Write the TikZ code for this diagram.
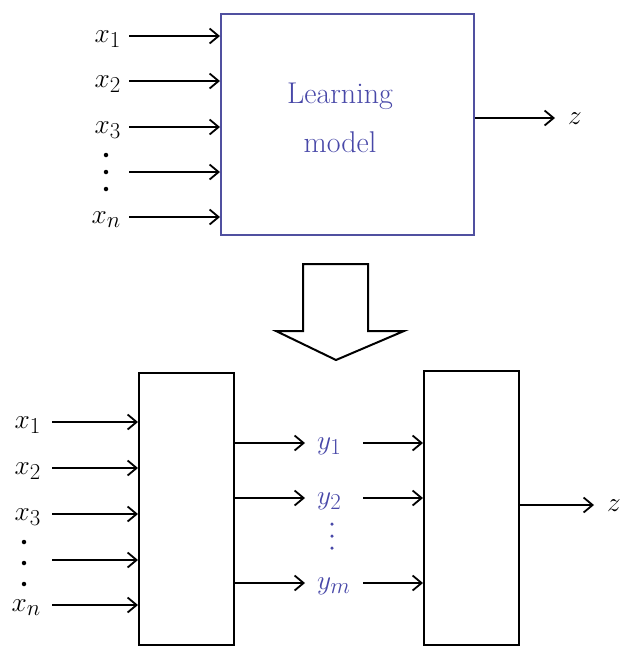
\documentclass[tikz,border=0pt]{standalone}
\usepackage{graphicx}
\usetikzlibrary{arrows.meta}
\definecolor{boxblue}{HTML}{5050A0}
\definecolor{txtblue}{HTML}{4848A8}
\newcommand{\mlb}[1]{\scalebox{1.1}{$#1$}}
\tikzset{
  arr/.style={line width=1.8pt,-{Straight Barb[length=9pt,width=15pt,line width=1.8pt]}},
  blk/.style={draw,line width=2pt,inner sep=0pt},
  mlab/.style={inner sep=0pt,font=\fontsize{24.88}{30}\selectfont},
  dotc/.style={fill,inner sep=0pt,minimum size=4.5pt,circle},
}
\begin{document}
\begin{tikzpicture}[x=1pt,y=-1pt]
\useasboundingbox (0,0) rectangle (620,646);
% ---------- top part ----------
\node[blk,draw=boxblue,minimum width=253pt,minimum height=221pt,anchor=north west] (lm) at (220,12.5) {};
\node[text=txtblue,align=center,inner sep=0pt,font=\fontsize{30}{49}\selectfont,anchor=base] (lmt) at (340,152) {Learning\\model};
\foreach \i/\yy/\lab in {1/36/x_1,2/81/x_2,3/127/x_3,5/217/x_n}{
  \node[mlab,anchor=base east] (tx\i) at (121,\yy+6) {\mlb{\lab}};
  \coordinate (ta\i) at (129,\yy);
  \draw[arr] (ta\i) -- (ta\i -| lm.west);
}
\coordinate (ta4) at (129,172);
\draw[arr] (ta4) -- (ta4 -| lm.west);
\node[dotc] (td1) at (106,155) {};
\node[dotc] (td2) at (106,172) {};
\node[dotc] (td3) at (106,189) {};
\node[mlab,anchor=base west] (tz) at (568,124) {\mlb{z}};
\coordinate (tzo) at (473,118);
\coordinate (tze) at (555,118);
\draw[arr] (tzo -| lm.east) -- (tze);
% ---------- block arrow ----------
\draw[line width=2pt,line join=miter] (303,264) -- (368,264) -- (368,331) -- (404,331) -- (336,360) -- (276,331) -- (303,331) -- cycle;
% ---------- bottom part ----------
\node[blk,minimum width=95pt,minimum height=272pt,anchor=north west] (b1) at (138,372) {};
\node[blk,minimum width=95pt,minimum height=274pt,anchor=north west] (b2) at (423,370) {};
\foreach \i/\yy/\lab in {1/422/x_1,2/468/x_2,3/514/x_3,5/605/x_n}{
  \node[mlab,anchor=base east] (bx\i) at (41,\yy+6) {\mlb{\lab}};
  \coordinate (ba\i) at (52,\yy);
  \draw[arr] (ba\i) -- (ba\i -| b1.west);
}
\coordinate (ba4) at (52,560);
\draw[arr] (ba4) -- (ba4 -| b1.west);
\node[dotc] (bd1) at (24,542) {};
\node[dotc] (bd2) at (24,563) {};
\node[dotc] (bd3) at (24,584) {};
\foreach \i/\yy/\lab in {1/443/y_1,2/498/y_2,3/583/y_m}{
  \node[mlab,anchor=base west,text=txtblue] (y\i) at (317,\yy+6) {\mlb{\lab}};
  \coordinate (yl\i) at (233,\yy);
  \coordinate (ym\i) at (305,\yy);
  \draw[arr] (yl\i -| b1.east) -- (ym\i);
  \coordinate (yr\i) at (363,\yy);
  \draw[arr] (yr\i) -- (yr\i -| b2.west);
}
\node[dotc,fill=txtblue,minimum size=3.5pt] (yd1) at (332,524) {};
\node[dotc,fill=txtblue,minimum size=3.5pt] (yd2) at (332,536) {};
\node[dotc,fill=txtblue,minimum size=3.5pt] (yd3) at (332,548) {};
\node[mlab,anchor=base west] (bz) at (607,511) {\mlb{z}};
\coordinate (bzo) at (518,505);
\coordinate (bze) at (594,505);
\draw[arr] (bzo -| b2.east) -- (bze);
\end{tikzpicture}
\end{document}
